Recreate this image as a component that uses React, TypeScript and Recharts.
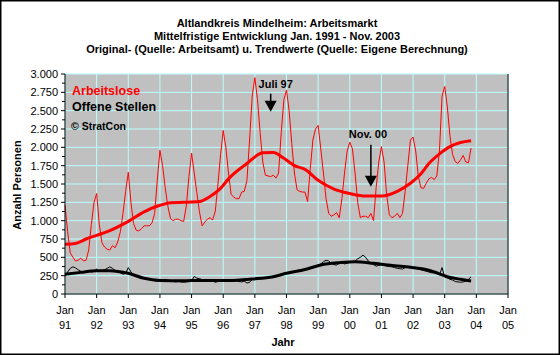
import React from 'react';
import { ComposedChart, Line, XAxis, YAxis, CartesianGrid, ReferenceDot } from 'recharts';

// Monatswerte Jan. 1991 - Nov. 2003 (Index 0 = Jan 91)
const arbeitslose = [
  1210, 850, 560, 500, 450, 460, 490, 450, 460, 600, 950, 1250,
  1370, 950, 700, 640, 610, 600, 660, 630, 710, 850, 1100, 1400,
  1660, 1250, 960, 870, 860, 890, 930, 930, 930, 970, 1100, 1550,
  1960, 1750, 1450, 1200, 1030, 1000, 1020, 1020, 1000, 990, 1200, 1600,
  1920, 1650, 1380, 1120, 930, 980, 1020, 1040, 1010, 1130, 1500, 1900,
  2230, 2000, 1650, 1360, 1320, 1300, 1300, 1390, 1400, 1550, 2100, 2700,
  2950, 2650, 2200, 1800, 1620, 1610, 1600, 1620, 1580, 1650, 2200, 2650,
  2780, 2500, 2050, 1650, 1420, 1400, 1390, 1390, 1260, 1700, 2100, 2250,
  2300, 1980, 1650, 1300, 1100, 1060, 1080, 1110, 1040, 1300, 1650, 1950,
  2070, 1980, 1650, 1250, 1040, 1060, 1060, 1040, 1100, 1000, 1450, 1800,
  2010, 1800, 1350, 1080, 1040, 1060, 1100, 1040, 1100, 1400, 1750, 2100,
  2140, 1950, 1600, 1450, 1440, 1510, 1570, 1590, 1560, 1610, 1950, 2700,
  2830, 2550, 2150, 1900, 1805, 1780, 1830, 1890, 1800, 1790, 1990,
];

const offeneStellen = [
  240, 300, 350, 370, 355, 330, 310, 300, 310, 320, 300, 310,
  340, 310, 320, 330, 350, 370, 350, 320, 300, 290, 270, 280,
  360, 300, 260, 250, 240, 230, 220, 210, 200, 190, 180, 175,
  180, 190, 200, 190, 175, 170, 165, 170, 165, 160, 165, 170,
  180, 240, 215, 210, 195, 185, 180, 185, 180, 160, 170, 175,
  180, 185, 190, 180, 175, 180, 170, 165, 175, 150, 160, 200,
  205, 205, 210, 215, 220, 225, 230, 235, 240, 250, 260, 270,
  280, 290, 300, 310, 320, 325, 330, 340, 345, 350, 360, 370,
  390, 410, 440, 460, 450, 420, 400, 395, 420, 430, 410, 420,
  430, 440, 450, 480, 500, 530, 500, 450, 420, 400, 380, 390,
  400, 390, 380, 375, 370, 360, 350, 345, 340, 360, 370, 360,
  355, 350, 340, 330, 320, 310, 300, 290, 290, 280, 260, 360,
  230, 220, 200, 190, 170, 165, 160, 165, 175, 200, 235,
];

// Trendwerte (Stützstellen: Monatsindex / Wert)
const trendArbeitsloseMonat = [0, 4, 8, 12, 17, 24, 30, 36, 40, 45, 51, 55, 59, 62, 69, 75, 79, 83, 87, 91, 96, 102, 108, 114, 120, 126, 131, 135, 138, 142, 146, 150, 154];
const trendArbeitslose = [680, 690, 750, 800, 864, 990, 1120, 1210, 1245, 1250, 1260, 1330, 1440, 1570, 1780, 1925, 1930, 1850, 1750, 1700, 1550, 1430, 1370, 1336, 1336, 1400, 1510, 1640, 1780, 1910, 2010, 2065, 2090];

const trendStellenMonat = [0, 6, 12, 17, 24, 30, 36, 45, 51, 62, 71, 79, 84, 91, 97, 104, 110, 117, 125, 131, 136, 140, 145, 150, 154];
const trendStellen = [268, 295, 318, 318, 282, 214, 185, 180, 185, 185, 205, 236, 282, 335, 395, 427, 441, 418, 386, 364, 341, 300, 236, 200, 177];

const yearLabels = ['91', '92', '93', '94', '95', '96', '97', '98', '99', '00', '01', '02', '03', '04', '05'];
const xTicks = yearLabels.map((_, i) => i * 12);
const yTicks = [0, 250, 500, 750, 1000, 1250, 1500, 1750, 2000, 2250, 2500, 2750, 3000];
const yMinor = [125, 375, 625, 875, 1125, 1375, 1625, 1875, 2125, 2375, 2625, 2875];
const yAllTicks = [...yTicks, ...yMinor].sort((a, b) => a - b);

const monthly = arbeitslose.map((v, i) => ({ m: i, al: v, os: offeneStellen[i] }));
const trendAlData = trendArbeitsloseMonat.map((m, i) => ({ m, v: trendArbeitslose[i] }));
const trendOsData = trendStellenMonat.map((m, i) => ({ m, v: trendStellen[i] }));

const FONT = '"Liberation Sans", Arial, sans-serif';

const fmt = (v: number) => v.toLocaleString('de-DE');

function XTick(props: any) {
  const { x, payload } = props;
  const i = xTicks.indexOf(payload.value);
  return (
    <g>
      <line x1={x} x2={x} y1={294} y2={298} stroke="#000" />
      <text x={x} y={314} textAnchor="middle" fontFamily={FONT} fontSize={11} fill="#000">Jan</text>
      <text x={x} y={329} textAnchor="middle" fontFamily={FONT} fontSize={11} fill="#000">{yearLabels[i]}</text>
    </g>
  );
}

function LeftTick(props: any) {
  const { y, payload } = props;
  const major = payload.value % 250 === 0;
  return (
    <g>
      <line x1={major ? 61 : 62} x2={65} y1={y} y2={y} stroke="#000" />
      {major && (
        <text x={58} y={y + 4} textAnchor="end" fontFamily={FONT} fontSize={11} fill="#000">{fmt(payload.value)}</text>
      )}
    </g>
  );
}

function RightTick(props: any) {
  const { y, payload } = props;
  const major = payload.value % 250 === 0;
  return (
    <g>
      <line x1={506} x2={major ? 512 : 511} y1={y} y2={y} stroke="#000" />
      {major && (
        <text x={515} y={y + 4} textAnchor="start" fontFamily={FONT} fontSize={11} fill="#000">{fmt(payload.value)}</text>
      )}
    </g>
  );
}

// Pfeil mit Beschriftung, Spitze liegt auf (cx, cy)
const arrow = (label: string, len: number, dx: number, dy: number) => (p: any) => {
  const { cx, cy } = p;
  return (
    <g>
      <text x={cx + dx} y={cy + dy} textAnchor="middle" fontFamily={FONT} fontSize={11} fontWeight="bold" fill="#000">{label}</text>
      <line x1={cx} x2={cx} y1={cy - len} y2={cy - 10} stroke="#000" strokeWidth={1.5} />
      <polygon points={`${cx - 6},${cy - 11} ${cx + 6},${cy - 11} ${cx},${cy}`} fill="#000" />
    </g>
  );
};

export default function App() {
  return (
    <div style={{ position: 'absolute', left: 0, top: 0, width: 560, height: 355, background: '#fff' }}>
      <ComposedChart
        width={560}
        height={355}
        data={monthly}
        margin={{ top: 74, right: 0, bottom: 0, left: 0 }}
      >
        <CartesianGrid
          fill="#c0c0c0"
          fillOpacity={1}
          stroke="#b8ffff"
          horizontalValues={yTicks}
          verticalValues={xTicks}
        />
        <XAxis
          dataKey="m"
          type="number"
          domain={[0, 168]}
          ticks={xTicks}
          interval={0}
          height={61}
          axisLine={{ stroke: '#000' }}
          tickLine={false}
          tick={<XTick />}
        />
        <YAxis
          type="number"
          domain={[0, 3000]}
          ticks={yAllTicks}
          interval={0}
          width={65}
          axisLine={{ stroke: '#000' }}
          tickLine={false}
          tick={<LeftTick />}
        />
        <YAxis
          yAxisId="right"
          orientation="right"
          type="number"
          domain={[0, 3000]}
          ticks={yAllTicks}
          interval={0}
          width={52}
          axisLine={{ stroke: '#000' }}
          tickLine={false}
          tick={<RightTick />}
        />
        <Line dataKey="al" stroke="#ff0000" strokeWidth={1} dot={false} activeDot={false} isAnimationActive={false} />
        <Line dataKey="os" stroke="#000" strokeWidth={1} dot={false} activeDot={false} isAnimationActive={false} />
        <Line data={trendAlData} dataKey="v" type="monotone" stroke="#ff0000" strokeWidth={3} dot={false} activeDot={false} isAnimationActive={false} />
        <Line data={trendOsData} dataKey="v" type="monotone" stroke="#000" strokeWidth={3} dot={false} activeDot={false} isAnimationActive={false} />
        <ReferenceDot x={78} y={2486} r={0} ifOverflow="visible" shape={arrow('Juli 97', 18, 5, -24)} />
        <ReferenceDot x={116} y={1463} r={0} ifOverflow="visible" shape={arrow('Nov. 00', 42, -3, -49)} />
      </ComposedChart>
      <svg width={560} height={355} style={{ position: 'absolute', left: 0, top: 0, pointerEvents: 'none' }}>
        <rect x={0.75} y={0.75} width={558.5} height={353.5} fill="none" stroke="#000" strokeWidth={1.5} />
        <g fontFamily={FONT} fontWeight="bold" fontSize={11} textAnchor="middle" fill="#000">
          <text x={277} y={26.5}>Altlandkreis Mindelheim: Arbeitsmarkt</text>
          <text x={277} y={40}>Mittelfristige Entwicklung Jan. 1991 - Nov. 2003</text>
          <text x={277} y={53}>Original- (Quelle: Arbeitsamt)  u. Trendwerte (Quelle: Eigene Berechnung)</text>
          <text x={283} y={346}>Jahr</text>
          <text transform="translate(21,185) rotate(-90)">Anzahl Personen</text>
        </g>
        <g fontFamily={FONT} fontWeight="bold">
          <text x={72} y={94.5} fontSize={12.5} fill="#ff0000">Arbeitslose</text>
          <text x={72} y={111} fontSize={12.5} fill="#000">Offene Stellen</text>
          <text x={71} y={130} fontSize={10.5} fill="#000">© StratCon</text>
        </g>
      </svg>
    </div>
  );
}
